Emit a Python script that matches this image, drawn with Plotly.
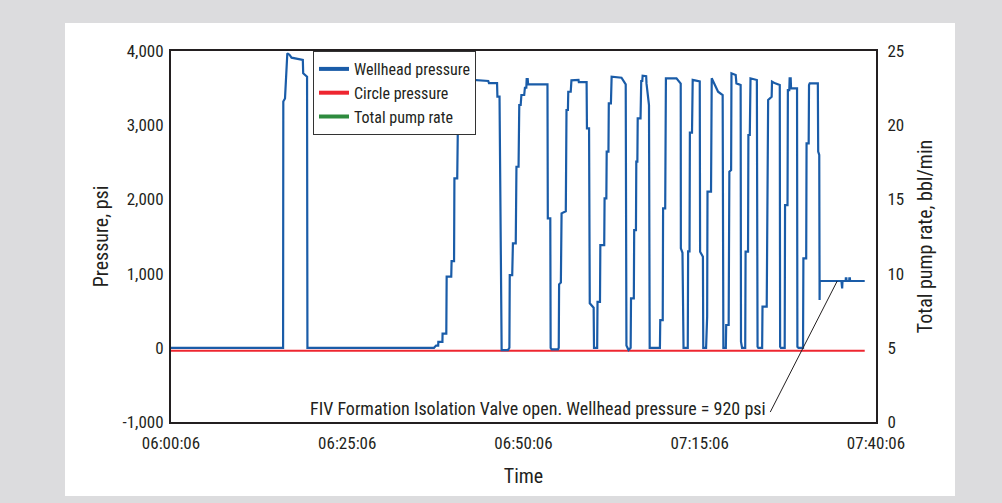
import pandas as pd
import plotly.graph_objects as go

# ---------------- data ----------------
START = "2000-01-01 06:00:06"

# Wellhead pressure (psi) vs minutes after 06:00:06
wh_minutes = [0, 15.9, 15.93, 16.17, 16.5, 16.8, 17.1, 18.7, 18.75, 19.3, 19.35,
              37.3, 37.6, 37.9, 37.92, 38.5, 38.52, 39.05, 39.1, 39.75, 39.8, 40.15, 40.2,
              40.6, 40.7, 40.95, 41.1, 41.3, 45.0, 45.1, 46.25, 46.3, 46.6, 46.8, 46.9,
              47.8, 48.0, 48.05, 48.4, 48.5, 48.9, 49.0, 49.3, 49.4, 49.6, 49.7, 50.1,
              50.2, 50.4, 50.45, 50.6, 50.65, 53.4, 53.45, 53.8, 53.85, 54.0, 54.9,
              55.0, 55.05, 55.3, 55.4, 56.0, 56.1, 56.3, 56.35, 56.7, 56.8, 57.8, 57.85,
              58.95, 59.0, 59.3, 59.4, 59.95, 60.0, 60.45, 60.5, 60.85, 60.9, 61.45, 61.5,
              61.75, 61.8, 62.05, 62.1, 62.4, 62.5, 63.9, 64.5, 64.6, 64.9, 65.2, 65.25,
              65.65, 65.7, 65.95, 66.0, 66.15, 66.2, 66.6, 66.7, 66.85, 66.9, 67.4, 67.45,
              67.8, 67.9, 69.35, 69.4, 69.75, 69.8, 70.1, 70.2, 71.7, 72.3, 72.32, 72.55,
              72.6, 72.7, 73.3, 73.35, 73.55, 73.6, 73.9, 74.0, 75.0, 75.05, 75.45, 75.5,
              75.9, 75.95, 76.05, 76.1, 76.6, 76.7, 77.6, 78.25, 78.3, 78.35, 78.7, 78.75,
              79.1, 79.2, 79.45, 79.5, 80.1, 80.2, 80.8, 80.85, 81.0, 81.45, 81.5, 81.85,
              81.9, 82.1, 82.2, 83.1, 83.2, 83.3, 83.85, 83.9, 84.5, 84.6, 84.65, 84.7,
              85.2, 85.25, 85.7, 86.35, 86.4, 86.5, 87.05, 87.1, 87.45, 87.5, 87.7, 87.75,
              87.9, 87.95, 88.8, 88.85, 89.0, 89.65, 89.7, 90.1, 90.15, 90.45, 90.5, 90.6,
              91.75, 91.8, 91.95, 92.0, 92.02, 95.1, 95.15, 95.2, 95.25, 95.7, 95.72, 95.8,
              95.82, 96.2, 96.22, 96.3, 96.32, 98.4]
wh_psi = [0, 0, 3320, 3360, 3969, 3950, 3910, 3879, 3699, 3654, 0,
          0, 30, 30, 80, 80, 190, 190, 958, 958, 1169, 1169, 2284,
          2284, 3070, 3120, 3632, 3620, 3596, 3568, 3568, 3384, 3384, 0, -30,
          -30, 0, 980, 980, 1408, 1408, 2440, 2440, 3272, 3272, 3407, 3407,
          3505, 3505, 3620, 3620, 3551, 3551, 1745, 1745, 0, -20, -20,
          0, 855, 880, 1812, 1840, 3205, 3205, 3451, 3451, 3604, 3610, 3580,
          3580, 2958, 2958, 599, 540, 0, 0, 620, 620, 1385, 1385, 2014,
          2014, 2643, 2643, 3295, 3295, 3654, 3640, 3551, 30, -30, 0, 666,
          666, 1587, 1587, 2508, 2508, 3092, 3092, 3596, 3596, 3667, 3660, 3560,
          3272, 0, 0, 374, 374, 1880, 1880, 3632, 3632, 3560, 1340, 1280,
          30, 0, 0, 1300, 1300, 2900, 2900, 3610, 3590, 1295, 1228, 0,
          0, 420, 420, 2104, 2104, 3632, 3452, 3407, 60, 0, 0, 307,
          307, 2373, 2396, 3699, 3677, 3564, 3542, 82, 0, 0, 1295, 1295,
          2868, 2868, 3632, 3609, 14, 0, 0, 554, 554, 1969, 1969, 3340,
          3384, 3587, 3564, 3542, 14, 0, 0, 1924, 1924, 3474, 3474, 3632,
          3632, 3497, 3497, 14, 0, 0, 1205, 1205, 2756, 2756, 3542, 3564,
          3564, 2643, 2598, 644, 900, 900, 801, 801, 900, 900, 935, 935,
          900, 900, 935, 935, 900, 900]

# Circle pressure (psi)
circle_minutes = [0, 98.4]
circle_psi = [-40, -40]

# Total pump rate (bbl/min) - not visible in the chart
pump_minutes = []
pump_rate = []

# annotation: FIV opening point
FIV_MIN = 94.5
FIV_PSI = 900
LABEL_MIN = 85.0
LABEL_PSI = -866
FIV_TEXT = "FIV Formation Isolation Valve open. Wellhead pressure = 920 psi"

x_tick_minutes = [0, 25, 50, 75, 100]
x_tick_labels = ["06:00:06", "06:25:06", "06:50:06", "07:15:06", "07:40:06"]
y_tick_vals = [-1000, 0, 1000, 2000, 3000, 4000]
y_tick_labels = ["-1,000", "0", "1,000", "2,000", "3,000", "4,000"]
y2_tick_vals = [0, 5, 10, 15, 20, 25]

# ---------------- build ----------------
t0 = pd.Timestamp(START)
def to_time(mins):
    return [t0 + pd.Timedelta(minutes=m) for m in mins]

BLUE = "#1a5ca8"
RED = "#ee2630"
GREEN = "#2e8b3e"
FONT = "Liberation Sans Narrow, Arial Narrow, Roboto Condensed, Liberation Sans, Arial, sans-serif"
TXT = "#231f20"

fig = go.Figure()
fig.add_trace(go.Scatter(x=to_time(circle_minutes), y=circle_psi, mode="lines",
                         line=dict(color=RED, width=2), showlegend=False, hoverinfo="skip"))
fig.add_trace(go.Scatter(x=to_time(wh_minutes), y=wh_psi, mode="lines",
                         line=dict(color=BLUE, width=2.2), showlegend=False))
fig.add_trace(go.Scatter(x=to_time(pump_minutes), y=pump_rate, mode="lines", yaxis="y2",
                         line=dict(color=GREEN, width=2), showlegend=False))

# legend entries (thicker swatches)
for name, col in [("Wellhead pressure", BLUE), ("Circle pressure", RED), ("Total pump rate", GREEN)]:
    fig.add_trace(go.Scatter(x=[None], y=[None], mode="lines", name=name,
                             line=dict(color=col, width=4)))

x_range = to_time([0, 100])
fig.update_layout(
    width=1002, height=503,
    paper_bgcolor="#dcdcde", plot_bgcolor="white",
    margin=dict(l=171, r=126, t=51, b=81),
    font=dict(family=FONT, size=17, color=TXT),
    showlegend=True,
    legend=dict(x=0.2014, y=1, xanchor="left", yanchor="top",
                bgcolor="white", bordercolor="#333333", borderwidth=1,
                font=dict(size=16), itemwidth=30, tracegroupgap=0),
    xaxis=dict(range=x_range, tickvals=to_time(x_tick_minutes), ticktext=x_tick_labels,
               showline=True, linecolor="#231f20", linewidth=2, mirror=True,
               showgrid=False, zeroline=False, ticks="", ticklabelstandoff=5,
               title=dict(text="Time", standoff=17)),
    yaxis=dict(range=[-1000, 4000], tickvals=y_tick_vals, ticktext=y_tick_labels,
               showline=True, linecolor="#231f20", linewidth=2,
               showgrid=False, zeroline=False, ticks="", ticklabelstandoff=2,
               title=dict(text="Pressure, psi", standoff=8)),
    yaxis2=dict(range=[0, 25], tickvals=y2_tick_vals, overlaying="y", side="right",
                showline=True, linecolor="#231f20", linewidth=2,
                showgrid=False, zeroline=False, ticks="", ticklabelstandoff=6,
                title=dict(text="Total pump rate, bbl/min", standoff=15)),
    shapes=[
        dict(type="rect", xref="paper", yref="paper", layer="below",
             x0=(65 - 171) / 705, x1=(955 - 171) / 705,
             y0=(503 - 81 - 496) / 371, y1=(503 - 81 - 23) / 371,
             fillcolor="white", line=dict(width=0)),
        dict(type="line", xref="x", yref="y",
             x0=to_time([LABEL_MIN])[0], y0=LABEL_PSI,
             x1=to_time([FIV_MIN])[0], y1=FIV_PSI,
             line=dict(color="#231f20", width=1)),
    ],
    annotations=[
        dict(x=to_time([LABEL_MIN])[0], y=LABEL_PSI, xref="x", yref="y",
             text=FIV_TEXT, showarrow=False, xanchor="right", yanchor="middle",
             xshift=-2, yshift=4, font=dict(size=18, color=TXT)),
    ],
)

fig.write_html("out.html", config={"displayModeBar": False},
               post_script="document.body.style.margin='0';")
